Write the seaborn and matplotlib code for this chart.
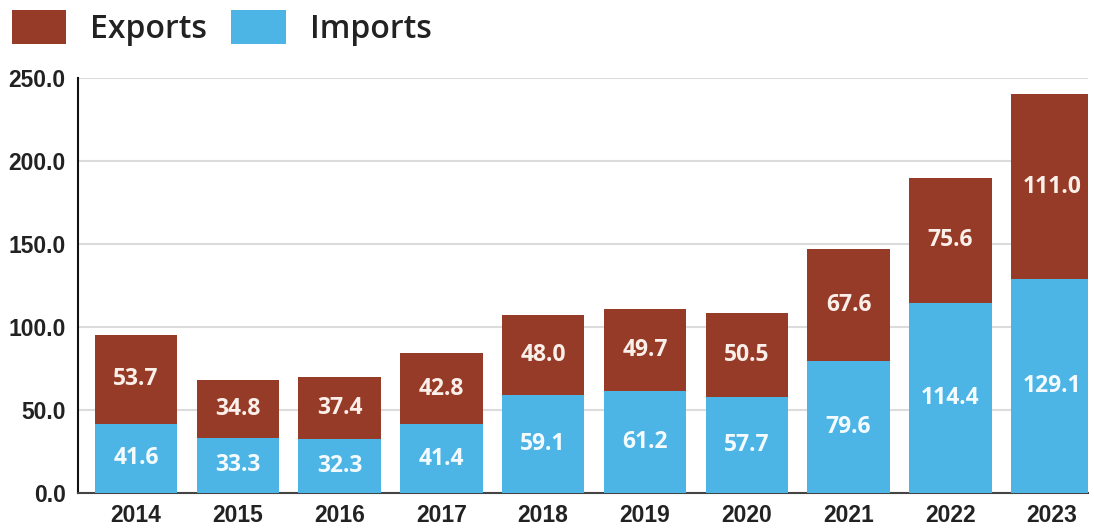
import pandas as pd
import seaborn as sns
import matplotlib.pyplot as plt

# data
years = ["2014", "2015", "2016", "2017", "2018", "2019", "2020", "2021", "2022", "2023"]
imports = [41.6, 33.3, 32.3, 41.4, 59.1, 61.2, 57.7, 79.6, 114.4, 129.1]
exports = [53.7, 34.8, 37.4, 42.8, 48.0, 49.7, 50.5, 67.6, 75.6, 111.0]

df = pd.DataFrame({"year": years, "imports": imports, "exports": exports})
df["total"] = df["imports"] + df["exports"]

brown = "#963B27"
blue = "#4DB5E6"

sns.set_style("white")
plt.rcParams["font.family"] = ["Liberation Sans", "DejaVu Sans"]

fig = plt.figure(figsize=(10.94, 5.30), dpi=100)
ax = fig.add_axes([0.0713, 0.0698, 0.923, 0.783])

# stacked: total bar (exports on top) behind the imports bar
sns.barplot(data=df, x="year", y="total", color=brown, width=0.81,
            saturation=1, label="Exports", ax=ax, zorder=3, linewidth=0)
sns.barplot(data=df, x="year", y="imports", color=blue, width=0.81,
            saturation=1, label="Imports", ax=ax, zorder=3, linewidth=0)

# value labels centred in each segment
for i, row in df.iterrows():
    ax.text(i, row["imports"] / 2, f"{row['imports']:.1f}", ha="center",
            va="center", color="#F4FBFF", fontsize=16.5, fontweight="bold",
            family="Open Sans", zorder=5)
    ax.text(i, row["imports"] + row["exports"] / 2, f"{row['exports']:.1f}",
            ha="center", va="center", color="#FBEFEA", fontsize=16.5,
            fontweight="bold", family="Open Sans", zorder=5)

ax.set_ylim(0, 250)
ax.set_xlim(-0.57, 9.35)
ax.set_yticks(range(0, 251, 50))
ax.set_yticklabels([f"{v:.1f}" for v in range(0, 251, 50)])
ax.yaxis.grid(True, color="#DCDCDC", linewidth=1.5, zorder=0)
ax.set_axisbelow(True)
ax.set_xlabel("")
ax.set_ylabel("")
ax.tick_params(axis="both", length=0, labelsize=16.5)
ax.tick_params(axis="y", pad=9)
ax.tick_params(axis="x", pad=8)
for lbl in ax.get_xticklabels() + ax.get_yticklabels():
    lbl.set_fontweight("bold")
    lbl.set_color("#222222")

for s in ["top", "right"]:
    ax.spines[s].set_visible(False)
ax.spines["left"].set_color("#111111")
ax.spines["left"].set_linewidth(1.5)
ax.spines["bottom"].set_color("#444444")
ax.spines["bottom"].set_linewidth(1.5)

if ax.legend_:
    ax.legend_.remove()
handles, labels = ax.get_legend_handles_labels()
leg = fig.legend(handles, labels, loc="upper left", bbox_to_anchor=(0.011, 0.981),
                 ncol=2, frameon=False, borderpad=0, borderaxespad=0,
                 prop={"family": "Open Sans", "size": 23, "weight": "semibold"},
                 handlelength=1.7, handleheight=1.25, handletextpad=0.75,
                 columnspacing=0.75)
for t in leg.get_texts():
    t.set_color("#222222")

fig.savefig("out.png", dpi=100)
